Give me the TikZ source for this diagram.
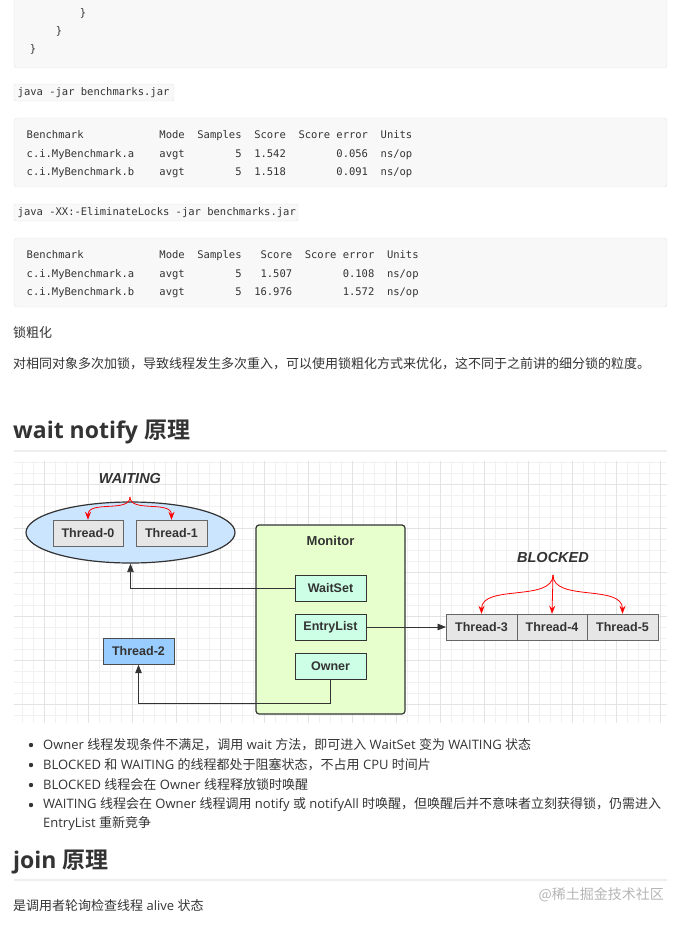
\documentclass[tikz,border=0pt]{standalone}
\usepackage{fontspec}
\setmainfont{Open Sans}
\newfontfamily\cjk{Noto Sans CJK SC}[BoldFont={Noto Sans CJK SC Bold}]
\newfontfamily\codefont{DejaVu Sans Mono}
\newfontfamily\diafont{Liberation Sans}
\usetikzlibrary{arrows.meta, shapes.geometric}

\definecolor{txt}{HTML}{333333}
\definecolor{codebg}{HTML}{F8F8F8}
\definecolor{codeline}{HTML}{E4E4E4}
\definecolor{rulegray}{HTML}{EEEEEE}
\definecolor{gridminor}{HTML}{F1F1F1}
\definecolor{gridmajor}{HTML}{E3E3E3}
\definecolor{waitblue}{HTML}{CCE5FF}
\definecolor{monitorgreen}{HTML}{E6FFCC}
\definecolor{slotgreen}{HTML}{CCFFE6}
\definecolor{threadgray}{HTML}{E6E6E6}
\definecolor{runblue}{HTML}{99CCFF}
\definecolor{markgray}{HTML}{B5B5B5}

\newcommand{\zh}[1]{{\cjk #1}}

\tikzset{
    codeblock/.style={fill=codebg, draw=codeline, rounded corners=3pt},
    codetext/.style={anchor=west, inner sep=0, text=txt, font=\codefont\fontsize{10.5}{12}\selectfont},
    bodytext/.style={anchor=west, inner sep=0, text=txt, font=\fontsize{13}{16}\selectfont},
    headtext/.style={anchor=west, inner sep=0, text=txt, font=\bfseries\fontsize{23}{28}\selectfont},
    threadbox/.style={draw=black!60, fill=threadgray, minimum width=70.5pt, minimum height=26pt, inner sep=0, text=txt, font=\diafont\bfseries\fontsize{12.5}{14}\selectfont},
    slotbox/.style={threadbox, draw=txt, fill=slotgreen},
    statelabel/.style={inner sep=0, text=txt, font=\diafont\bfseries\itshape\fontsize{14.5}{16}\selectfont},
    redarr/.style={red, line width=0.8pt, -{Stealth[length=8pt, width=6pt]}},
    darr/.style={draw=txt, line width=0.8pt, -{Triangle[length=8.5pt, width=6.5pt]}},
}

\begin{document}
\begin{tikzpicture}[x=1pt, y=-1pt]
    \useasboundingbox (0,0) rectangle (686,925);

    % Code blocks
    \draw[codeblock] (14,-10) rectangle (667,68);
    \node[codetext, anchor=center] (brace3) at (83,13) {\}};
    \node[codetext, anchor=center] (brace2) at (59,31) {\}};
    \node[codetext, anchor=center] (brace1) at (33,49) {\}};

    \draw[codeblock, rounded corners=2pt] (14,84) rectangle (174,101);
    \node[codetext] (cmdone) at (17.5,93) {java -jar benchmarks.jar};

    \draw[codeblock] (14,118) rectangle (667,187);
    \node[codetext] (resonehead) at (26.5,136) {Benchmark~~~~~~~~~~~~Mode~~Samples~~Score~~Score~error~~Units};
    \node[codetext] (resonea) at (26.5,155) {c.i.MyBenchmark.a~~~~avgt~~~~~~~~5~~1.542~~~~~~~~0.056~~ns/op};
    \node[codetext] (resoneb) at (26.5,173) {c.i.MyBenchmark.b~~~~avgt~~~~~~~~5~~1.518~~~~~~~~0.091~~ns/op};

    \draw[codeblock, rounded corners=2pt] (14,204) rectangle (298,221);
    \node[codetext] (cmdtwo) at (17.5,213) {java -XX:-EliminateLocks -jar benchmarks.jar};

    \draw[codeblock] (14,238) rectangle (667,307);
    \node[codetext] (restwohead) at (26.5,256) {Benchmark~~~~~~~~~~~~Mode~~Samples~~~Score~~Score~error~~Units};
    \node[codetext] (restwoa) at (26.5,275) {c.i.MyBenchmark.a~~~~avgt~~~~~~~~5~~~1.507~~~~~~~~0.108~~ns/op};
    \node[codetext] (restwob) at (26.5,293) {c.i.MyBenchmark.b~~~~avgt~~~~~~~~5~~16.976~~~~~~~~1.572~~ns/op};

    % Lock coarsening text
    \node[bodytext] (coarse) at (13,333) {\zh{锁粗化}};
    \node[bodytext] (coarsetext) at (13,364) {\zh{对相同对象多次加锁，导致线程发生多次重入，可以使用锁粗化方式来优化，这不同于之前讲的细分锁的粒度。}};

    \node[headtext] (waithead) at (13,432) {wait notify \zh{原理}};
    \draw[rulegray, line width=1.5pt] (14,451) -- (667,451);

    % Diagram background
    \fill[white] (14,461) rectangle (667,723);
    \draw[gridminor, line width=0.6pt, step=11pt] (14,461) grid (667,723);
    \draw[gridmajor, line width=0.6pt, step=44pt] (14,461) grid (667,723);

    % Waiting set
    \node[ellipse, draw=txt, line width=1.2pt, fill=waitblue, minimum width=209pt, minimum height=61pt, inner sep=0] (waiting) at (130.5,532.5) {};
    \node[threadbox] (thzero) at (88,533) {Thread-0};
    \node[threadbox] (thone) at (171.5,533) {Thread-1};
    \node[statelabel] (waitlabel) at (130,479) {WAITING};
    \coordinate (wtop) at (130,497);
    \draw[redarr] (wtop) .. controls (130,513) and (88,500) .. (thzero.north);
    \draw[redarr] (wtop) .. controls (130,513) and (171.5,500) .. (thone.north);

    % Monitor
    \node[draw=txt, line width=1.2pt, fill=monitorgreen, rounded corners=3pt, minimum width=149pt, minimum height=189pt, inner sep=0] (monitor) at (330.5,619.5) {};
    \node[inner sep=0, text=txt, font=\diafont\bfseries\fontsize{13}{14}\selectfont] (montitle) at (330.5,541) {Monitor};
    \node[slotbox] (waitset) at (330.5,588) {WaitSet};
    \node[slotbox] (entrylist) at (330.5,627) {EntryList};
    \node[slotbox] (owner) at (330.5,666.5) {Owner};

    % Running thread
    \node[threadbox, draw=black!70, fill=runblue] (thtwo) at (138.5,651.5) {Thread-2};

    % Blocked threads
    \node[threadbox] (ththree) at (481.5,627) {Thread-3};
    \node[threadbox] (thfour) at (552,627) {Thread-4};
    \node[threadbox] (thfive) at (622.5,627) {Thread-5};
    \node[statelabel] (blocklabel) at (553,558) {BLOCKED};
    \coordinate (btop) at (553,575);
    \draw[redarr] (btop) .. controls (553,602) and (481.5,584) .. (ththree.north);
    \draw[redarr] (btop) -- (thfour.north);
    \draw[redarr] (btop) .. controls (553,602) and (622.5,584) .. (thfive.north);

    % Connectors
    \draw[darr] (waitset.west) -| (waiting.south);
    \draw[darr] (entrylist.east) -- (ththree.west);
    \coordinate (ownbend) at (330.5,703);
    \draw[darr] (owner.south) -- (ownbend) -| (thtwo.south);

    % Bullet list
    \foreach \y in {745,765,785,805}
        \fill[txt] (31,\y) circle (2.2pt);
    \node[bodytext] (itemone) at (43,745) {Owner \zh{线程发现条件不满足，调用} wait \zh{方法，即可进入} WaitSet \zh{变为} WAITING \zh{状态}};
    \node[bodytext] (itemtwo) at (43,765) {BLOCKED \zh{和} WAITING \zh{的线程都处于阻塞状态，不占用} CPU \zh{时间片}};
    \node[bodytext] (itemthree) at (43,785) {BLOCKED \zh{线程会在} Owner \zh{线程释放锁时唤醒}};
    \node[bodytext] (itemfour) at (43,805) {WAITING \zh{线程会在} Owner \zh{线程调用} notify \zh{或} notifyAll \zh{时唤醒，但唤醒后并不意味者立刻获得锁，仍需进入}};
    \node[bodytext] (itemfourb) at (43,824) {EntryList \zh{重新竞争}};

    % Join section
    \node[headtext] (joinhead) at (13,862) {join \zh{原理}};
    \draw[rulegray, line width=1.5pt] (14,880) -- (667,880);
    \node[anchor=east, inner sep=0, text=markgray, font=\cjk\fontsize{14}{16}\selectfont] (mark) at (664,895) {@稀土掘金技术社区};
    \node[bodytext] (jointext) at (13,906) {\zh{是调用者轮询检查线程} alive \zh{状态}};
\end{tikzpicture}
\end{document}
